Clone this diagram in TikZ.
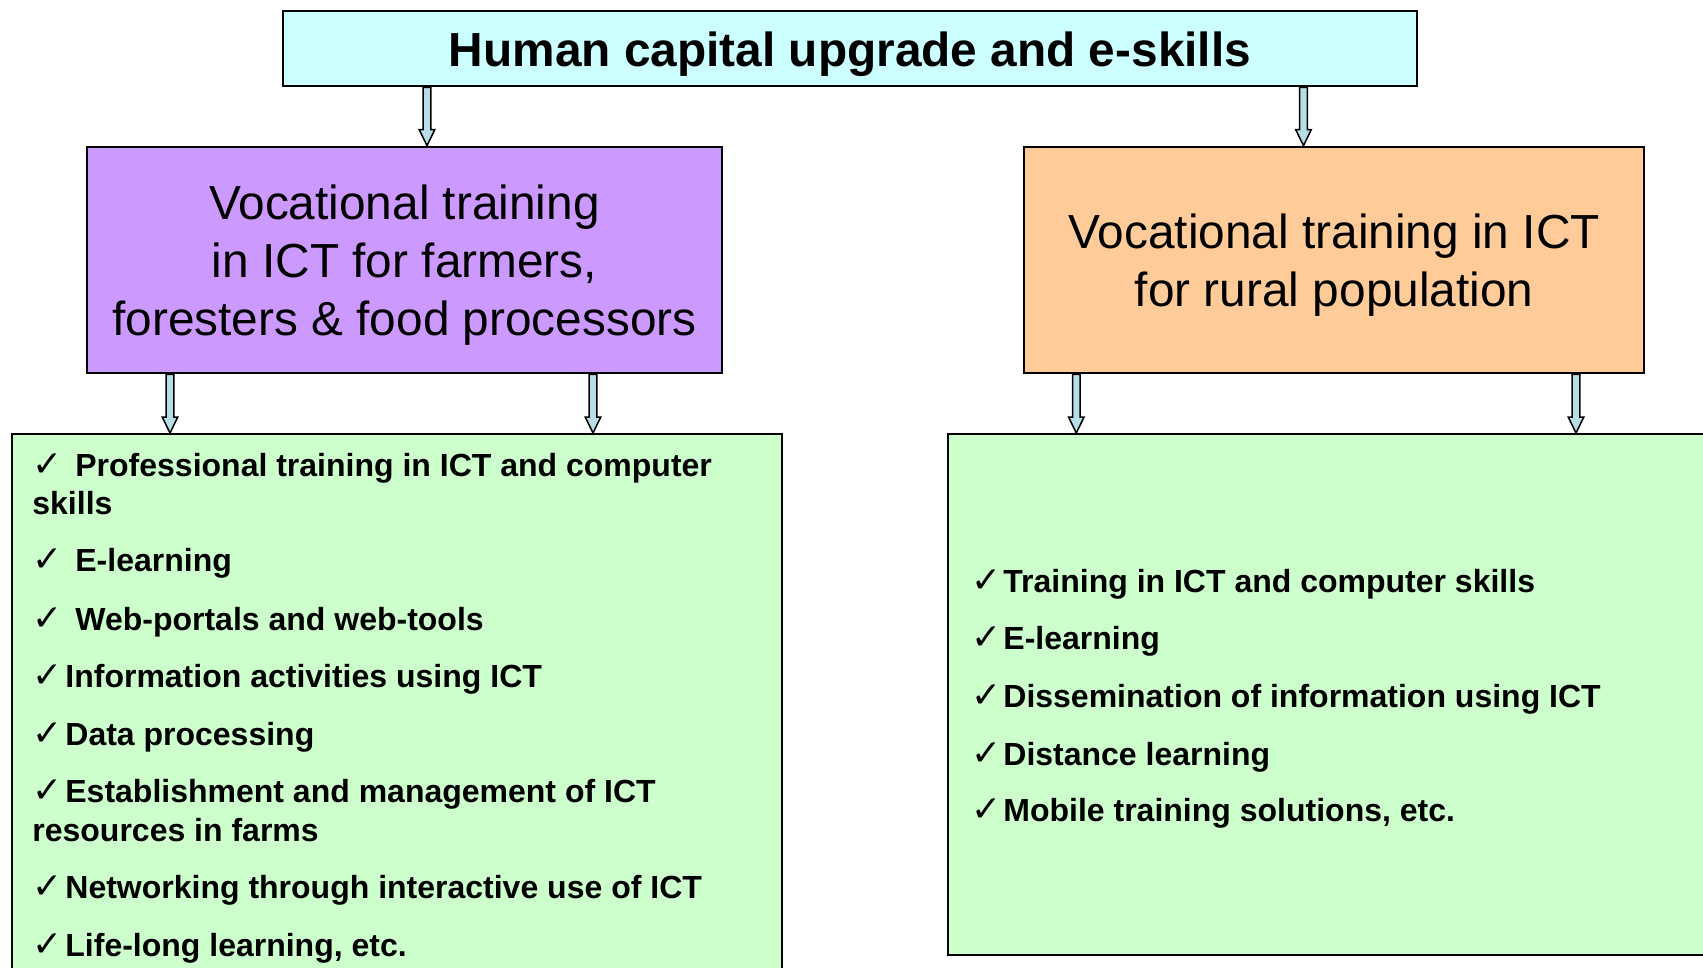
\documentclass[tikz,border=0pt]{standalone}
\usepackage{fontspec}
\setmainfont{Liberation Sans}
\newfontfamily\symfont{DejaVu Sans}
\usepackage{tikz}
\usetikzlibrary{calc, positioning}

\definecolor{titlecyan}{RGB}{204,255,255}
\definecolor{lilac}{RGB}{204,153,255}
\definecolor{peach}{RGB}{255,204,153}
\definecolor{mint}{RGB}{204,255,204}
\definecolor{arrowblue}{RGB}{183,221,230}

\newcommand{\tick}[1][16.5pt]{\makebox[#1][l]{\symfont\mdseries\fontsize{18}{18}\selectfont ✓}}
\newcommand{\bigdown}[2]{%
  \draw[blockarrow] ($(#1)+(-1.9pt,0)$) -- ($(#2)+(-1.9pt,8pt)$)
    -- ($(#2)+(-3.9pt,8pt)$) -- (#2) -- ($(#2)+(3.9pt,8pt)$)
    -- ($(#2)+(1.9pt,8pt)$) -- ($(#1)+(1.9pt,0)$) -- cycle;}

\begin{document}
\begin{tikzpicture}[
    x=0.5pt, y=-0.5pt,
    box/.style={
        rectangle,
        draw,
        line width=1pt,
        inner sep=0pt,
        align=center,
        fill=#1
    },
    heading/.style={
        box=#1,
        minimum height=113.35pt,
        text depth=0pt,
        font=\fontsize{23.9}{28.85}\selectfont
    },
    item/.style={
        anchor=base west,
        inner sep=0pt,
        align=left,
        font=\fontsize{16}{19.15}\selectfont\bfseries
    },
    blockarrow/.style={draw, line width=0.75pt, fill=arrowblue}
]
    \useasboundingbox (0,0) rectangle (1703,968);
    \clip (0,0) rectangle (1703,968);

    \node[box=titlecyan, minimum width=567pt, minimum height=37.9pt, text depth=0pt,
          font=\fontsize{23.9}{28}\selectfont\bfseries] (title) at (850,48.6)
          {\raisebox{-1pt}{Human capital upgrade and e-skills}};
    \node[heading=lilac, minimum width=317.8pt] (farmers) at (404.5,260)
          {Vocational training\\in ICT for farmers,\\foresters \& food processors};
    \node[heading=peach, minimum width=310pt] (rural) at (1334.25,260)
          {Vocational training in ICT\\for rural population};
    \node[box=mint, minimum width=385.25pt, minimum height=288pt] (farmlist) at (396.75,722) {};
    \node[box=mint, minimum width=405.85pt, minimum height=260.25pt] (rurallist) at (1354.15,694.25) {};

    \coordinate (c1) at (427,0);
    \coordinate (c2) at (1303.5,0);
    \coordinate (c3) at (170,0);
    \coordinate (c4) at (593,0);
    \coordinate (c5) at (1076.3,0);
    \coordinate (c6) at (1576,0);
    \bigdown{title.south -| c1}{farmers.north -| c1}
    \bigdown{title.south -| c2}{rural.north -| c2}
    \bigdown{farmers.south -| c3}{farmlist.north -| c3}
    \bigdown{farmers.south -| c4}{farmlist.north -| c4}
    \bigdown{rural.south -| c5}{rurallist.north -| c5}
    \bigdown{rural.south -| c6}{rurallist.north -| c6}

    \node[item] (f1) at (32,514.5) {\tick[21.5pt]Professional training in ICT and computer\\skills};
    \node[item] (f2) at (32,571.5) {\tick[21.5pt]E-learning};
    \node[item] (f3) at (32,630) {\tick[21.5pt]Web-portals and web-tools};
    \node[item] (f4) at (32,687.5) {\tick Information activities using ICT};
    \node[item] (f5) at (32,745) {\tick Data processing};
    \node[item] (f6) at (32,841) {\tick Establishment and management of ICT\\resources in farms};
    \node[item] (f7) at (32,898.5) {\tick Networking through interactive use of ICT};
    \node[item] (f8) at (32,956) {\tick Life-long learning, etc.};

    \node[item] (r1) at (971,592.3) {\tick[16pt]Training in ICT and computer skills};
    \node[item] (r2) at (971,649.5) {\tick[16pt]E-learning};
    \node[item] (r3) at (971,707.5) {\tick[16pt]Dissemination of information using ICT};
    \node[item] (r4) at (971,765) {\tick[16pt]Distance learning};
    \node[item] (r5) at (971,821.5) {\tick[16pt]Mobile training solutions, etc.};
\end{tikzpicture}
\end{document}
